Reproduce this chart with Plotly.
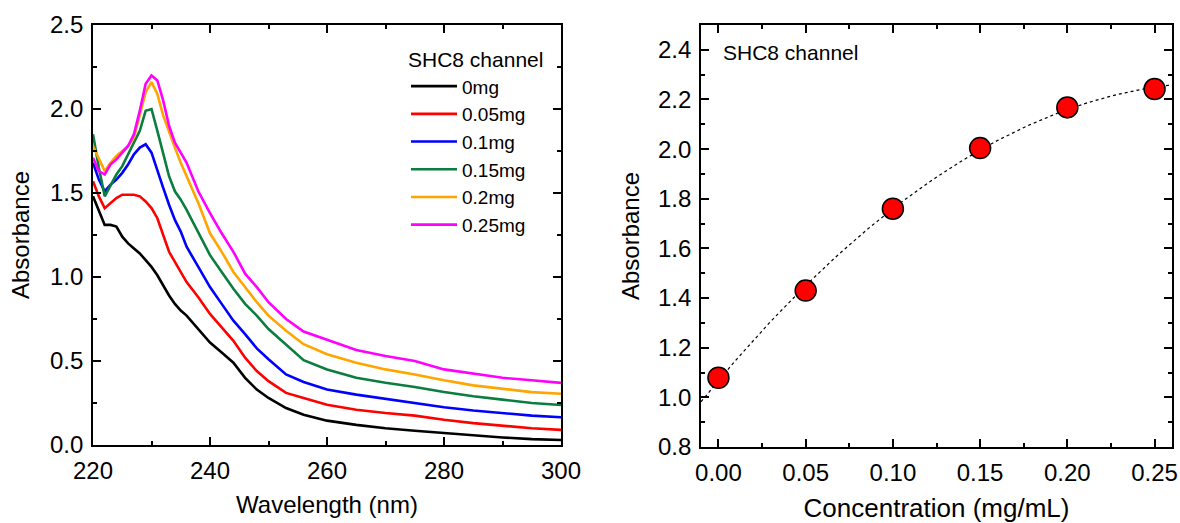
import numpy as np
import plotly.graph_objects as go

# ---------------- Data ----------------
wavelength = [220, 221, 222, 223, 224, 225, 226, 227, 228, 229, 230, 231, 232, 233, 234, 235, 236,
              238, 240, 242, 244, 246, 248, 250, 253, 256, 260, 265, 270, 275, 280, 285, 290, 295, 300]

abs_0mg = [1.48, 1.40, 1.31, 1.31, 1.30, 1.24, 1.20, 1.17, 1.14, 1.10, 1.06, 1.01, 0.95, 0.89, 0.84, 0.80, 0.77,
           0.69, 0.61, 0.55, 0.49, 0.40, 0.33, 0.28, 0.22, 0.18, 0.145, 0.12, 0.10, 0.085, 0.07, 0.058, 0.045, 0.035, 0.03]
abs_005mg = [1.57, 1.48, 1.41, 1.44, 1.47, 1.49, 1.49, 1.49, 1.48, 1.45, 1.41, 1.35, 1.25, 1.15, 1.09, 1.03, 0.97,
             0.88, 0.78, 0.70, 0.62, 0.52, 0.44, 0.38, 0.31, 0.28, 0.24, 0.21, 0.19, 0.175, 0.15, 0.13, 0.115, 0.10, 0.09]
abs_01mg = [1.68, 1.58, 1.51, 1.55, 1.58, 1.62, 1.67, 1.73, 1.77, 1.79, 1.74, 1.63, 1.53, 1.43, 1.34, 1.27, 1.18,
            1.06, 0.94, 0.84, 0.74, 0.66, 0.575, 0.51, 0.42, 0.375, 0.33, 0.30, 0.275, 0.25, 0.225, 0.205, 0.19, 0.175, 0.165]
abs_015mg = [1.85, 1.65, 1.48, 1.55, 1.61, 1.66, 1.73, 1.80, 1.87, 1.99, 2.00, 1.87, 1.74, 1.60, 1.51, 1.46, 1.40,
             1.26, 1.13, 1.03, 0.93, 0.84, 0.77, 0.69, 0.60, 0.505, 0.45, 0.40, 0.37, 0.345, 0.315, 0.29, 0.27, 0.25, 0.238]
abs_02mg = [1.78, 1.70, 1.63, 1.68, 1.72, 1.75, 1.78, 1.83, 1.96, 2.10, 2.16, 2.09, 1.96, 1.86, 1.77, 1.68, 1.60,
            1.44, 1.26, 1.15, 1.03, 0.94, 0.85, 0.77, 0.68, 0.60, 0.54, 0.49, 0.45, 0.42, 0.385, 0.355, 0.335, 0.315, 0.305]
abs_025mg = [1.71, 1.63, 1.61, 1.67, 1.70, 1.74, 1.78, 1.85, 1.99, 2.15, 2.20, 2.17, 2.05, 1.90, 1.80, 1.74, 1.68,
             1.51, 1.38, 1.26, 1.15, 1.02, 0.94, 0.85, 0.75, 0.675, 0.625, 0.565, 0.53, 0.50, 0.45, 0.425, 0.40, 0.385, 0.37]

series_names = ["0mg", "0.05mg", "0.1mg", "0.15mg", "0.2mg", "0.25mg"]
series_values = [abs_0mg, abs_005mg, abs_01mg, abs_015mg, abs_02mg, abs_025mg]
series_colors = ["#000000", "#FF0000", "#0000FF", "#0B7D3E", "#FFA500", "#FF00FF"]

concentration = [0.00, 0.05, 0.10, 0.15, 0.20, 0.25]
absorbance_peak = [1.079, 1.430, 1.760, 2.004, 2.168, 2.242]

# ---------------- Layout helpers (body margin removed in the page) ----------------
W, H, OFF = 1180, 523, 0
def xp(px):
    return (px - OFF) / W
def yp(py):
    return 1 - (py - OFF) / H

# ---------------- Figure ----------------
FONT = "Liberation Sans, Arial, sans-serif"
fig = go.Figure()

for name, vals, col in zip(series_names, series_values, series_colors):
    fig.add_trace(go.Scatter(x=wavelength, y=vals, mode="lines", name=name,
                             line=dict(color=col, width=2.6), xaxis="x", yaxis="y"))

# quadratic fit of the points (dotted)
coef = np.polyfit(concentration, absorbance_peak, 2)
xf = np.linspace(-0.01, 0.26, 120)
fig.add_trace(go.Scatter(x=xf, y=np.polyval(coef, xf), mode="lines", showlegend=False,
                         line=dict(color="black", width=1.2, dash="dot"), xaxis="x2", yaxis="y2"))
fig.add_trace(go.Scatter(x=concentration, y=absorbance_peak, mode="markers", showlegend=False,
                         marker=dict(size=21, color="#FF0000", line=dict(color="black", width=1.5)),
                         xaxis="x2", yaxis="y2"))

axis_common = dict(showline=True, linecolor="black", linewidth=1.6, mirror="ticks",
                   ticks="inside", ticklen=8, tickwidth=1.5, tickcolor="black",
                   showgrid=False, zeroline=False, automargin=False,
                   tickfont=dict(family=FONT, size=24, color="black"),
                   ticklabelstandoff=3, ticklabeloverflow="allow")

fig.update_layout(
    width=W, height=H,
    margin=dict(l=0, r=0, t=0, b=0),
    paper_bgcolor="white", plot_bgcolor="white",
    font=dict(family=FONT, color="black"),
    xaxis=dict(domain=[xp(93), xp(561)], range=[220, 300], dtick=20, tick0=220,
               minor=dict(ticks="inside", ticklen=4, tickwidth=1.5, dtick=10, tickcolor="black"),
               title=dict(text="Wavelength (nm)", font=dict(family=FONT, size=24), standoff=14),
               anchor="y", **axis_common),
    yaxis=dict(domain=[yp(445), yp(25)], range=[0, 2.5], dtick=0.5, tick0=0, tickformat=".1f",
               minor=dict(ticks="inside", ticklen=4, tickwidth=1.5, dtick=0.25, tickcolor="black"),
               title=dict(text="Absorbance", font=dict(family=FONT, size=24), standoff=14),
               anchor="x", **axis_common),
    xaxis2=dict(domain=[xp(701), xp(1172)], range=[-0.01, 0.26], dtick=0.05, tick0=0, tickformat=".2f",
                minor=dict(ticks="inside", ticklen=4, tickwidth=1.5, dtick=0.025, tickcolor="black"),
                title=dict(text="Concentration (mg/mL)", font=dict(family=FONT, size=26), standoff=14),
                anchor="y2", **axis_common),
    yaxis2=dict(domain=[yp(447), yp(25)], range=[0.8, 2.5], dtick=0.2, tick0=0.8, tickformat=".1f",
                minor=dict(ticks="inside", ticklen=4, tickwidth=1.5, dtick=0.1, tickcolor="black"),
                title=dict(text="Absorbance", font=dict(family=FONT, size=24), standoff=12),
                anchor="x2", **axis_common),
    legend=dict(x=xp(406), y=yp(40), xanchor="left", yanchor="top",
                bgcolor="rgba(0,0,0,0)", borderwidth=0,
                font=dict(family=FONT, size=19, color="black"),
                title=dict(text="SHC8 channel", font=dict(family=FONT, size=21, color="black")),
                itemwidth=46, tracegroupgap=0),
    annotations=[dict(text="SHC8 channel", x=xp(721), y=yp(52), xref="paper", yref="paper",
                      xanchor="left", yanchor="middle", showarrow=False,
                      font=dict(family=FONT, size=21, color="black"))],
)

fig.write_html("out.html", config={"displayModeBar": False},
               post_script="document.body.style.margin='0px';document.body.style.overflow='hidden';")
